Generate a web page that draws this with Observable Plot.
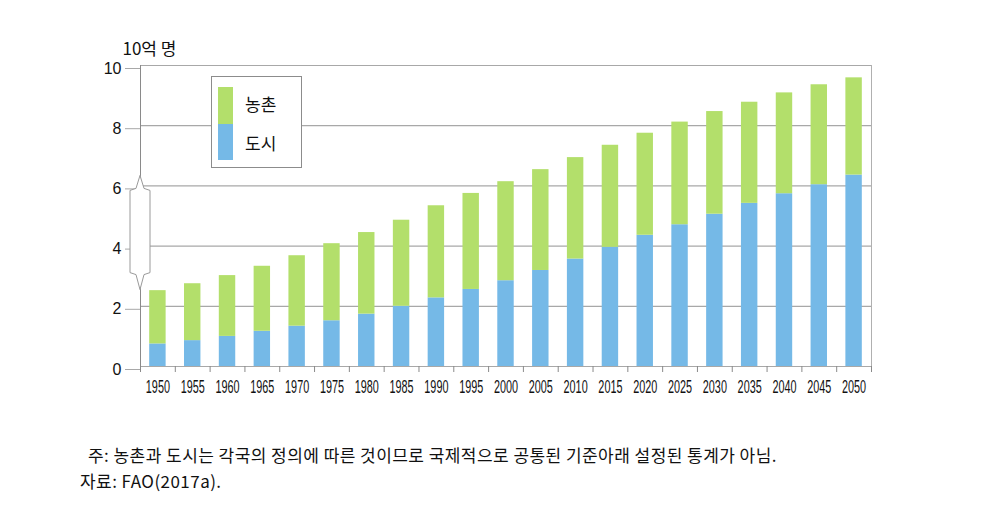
<!DOCTYPE html>
<html><head><meta charset="utf-8">
<script src="https://cdn.jsdelivr.net/npm/d3@7"></script>
<script src="https://cdn.jsdelivr.net/npm/@observablehq/plot@0.6"></script>
<style>
body{margin:0;background:#fff;}
#wrap{position:relative;width:1005px;height:521px;font-family:"Noto Sans CJK KR","Noto Sans",sans-serif;color:#111;}
#wrap svg{position:absolute;left:0;top:0;}
.note{position:absolute;font-size:17px;line-height:17px;white-space:nowrap;letter-spacing:0.45px;}
#legend{position:absolute;left:211px;top:76px;width:89px;height:90px;border:1px solid #8c8c8c;background:#fff;}
.sw{position:absolute;left:6px;width:15px;}
.lt{position:absolute;left:33px;font-size:17px;line-height:17px;}
</style></head><body><div id="wrap"></div>
<script>
const years=[1950,1955,1960,1965,1970,1975,1980,1985,1990,1995,2000,2005,2010,2015,2020,2025,2030,2035,2040,2045,2050];
const urban=[0.75,0.86,1.00,1.17,1.34,1.52,1.74,2.00,2.28,2.56,2.85,3.19,3.57,3.96,4.36,4.71,5.06,5.42,5.74,6.04,6.36];
const total=[2.52,2.75,3.02,3.33,3.68,4.08,4.45,4.86,5.34,5.75,6.14,6.54,6.94,7.35,7.75,8.12,8.47,8.78,9.09,9.36,9.59];
const yTicks=[0,2,4,6,8,10];
const seriesNames=["농촌","도시"];
const seriesColors=["#b3df6b","#75b9e7"];
const yUnit="10억 명";
const noteText="주: 농촌과 도시는 각국의 정의에 따른 것이므로 국제적으로 공통된 기준아래 설정된 통계가 아님.";
const sourceText="자료: FAO(2017a).";

const rows=[];
years.forEach((yr,i)=>{
  rows.push({year:yr,series:"도시",y1:0,y2:urban[i]});
  rows.push({year:yr,series:"농촌",y1:urban[i],y2:total[i]});
});
const step=years[1]-years[0];
const half=step/2;
const bounds=years.map(y=>y-half).concat([years[years.length-1]+half]);
const xDomain=[bounds[0],bounds[bounds.length-1]];
const barHalf=step*0.236;

const plot=Plot.plot({
  width:1005,height:410,
  marginLeft:140,marginRight:134,marginTop:65,marginBottom:44,
  style:{fontFamily:"'Liberation Sans',Arial,sans-serif",color:"#111",background:"transparent"},
  x:{domain:xDomain,axis:null},
  y:{domain:[0,10],axis:null},
  color:{domain:seriesNames,range:seriesColors},
  marks:[
    Plot.ruleY(yTicks,{stroke:"#a8a8a8",strokeWidth:1.2}),
    Plot.ruleX([xDomain[1]],{y1:0,y2:10,stroke:"#b0b0b0"}),
    Plot.rectY(rows,{x1:d=>d.year-barHalf,x2:d=>d.year+barHalf,y1:"y1",y2:"y2",fill:"series"}),
    Plot.ruleX([xDomain[0]],{y1:0,y2:10,stroke:"#8a8a8a"}),
    Plot.axisY(yTicks,{tickSize:15,tickPadding:4,dy:3,fontSize:16,stroke:"#a8a8a8",label:null,tickFormat:d=>String(d)}),
    Plot.axisX(bounds,{tickSize:6,tickFormat:()=>"",stroke:"#8a8a8a",label:null}),
    Plot.axisX(years,{tickSize:0,tickPadding:14,fontSize:17.5,tickFormat:d=>String(d),label:null}),
    Plot.text([yUnit],{frameAnchor:"top-left",dx:-18,dy:-23,textAnchor:"start",fontSize:17,fontFamily:"'Noto Sans CJK KR',sans-serif"})
  ]
});

// condensed year labels (as in the reference)
d3.select(plot).selectAll('g[aria-label="x-axis tick label"] text').each(function(){
  const t=this.getAttribute("transform")||"";
  this.setAttribute("transform",t+" scale(0.62,1)");
});

// axis-break symbol on the y axis
const sx=plot.scale("x"), sy=plot.scale("y");
const x0=sx.apply(xDomain[0]);
const g6=sy.apply(6), g4=sy.apply(4);
const tipT=g6-10, shT=g6+5, shB=g4+27, tipB=g4+44;
const p=d3.path();
p.moveTo(x0,tipT);p.lineTo(x0-4,shT-2);p.lineTo(x0-10,shT);p.lineTo(x0-10,shB);
p.lineTo(x0-4,shB+2);p.lineTo(x0,tipB);p.lineTo(x0+4,shB+2);p.lineTo(x0+10,shB);
p.lineTo(x0+10,shT);p.lineTo(x0+4,shT-2);p.closePath();
d3.select(plot).append("path").attr("d",p.toString()).attr("fill","#fff").attr("stroke","#9a9a9a").attr("stroke-width",1);

const wrap=document.getElementById("wrap");
wrap.appendChild(plot);

// legend
const lg=document.createElement("div");lg.id="legend";
lg.innerHTML=`<div class="sw" style="top:10px;height:37px;background:${seriesColors[0]}"></div>
<div class="sw" style="top:47px;height:36px;background:${seriesColors[1]}"></div>
<div class="lt" style="top:18px">${seriesNames[0]}</div>
<div class="lt" style="top:57px">${seriesNames[1]}</div>`;
wrap.appendChild(lg);

const n1=document.createElement("div");n1.className="note";n1.style.left="88px";n1.style.top="446px";n1.textContent=noteText;wrap.appendChild(n1);
const n2=document.createElement("div");n2.className="note";n2.style.left="80px";n2.style.top="472px";n2.textContent=sourceText;wrap.appendChild(n2);
</script></body></html>
